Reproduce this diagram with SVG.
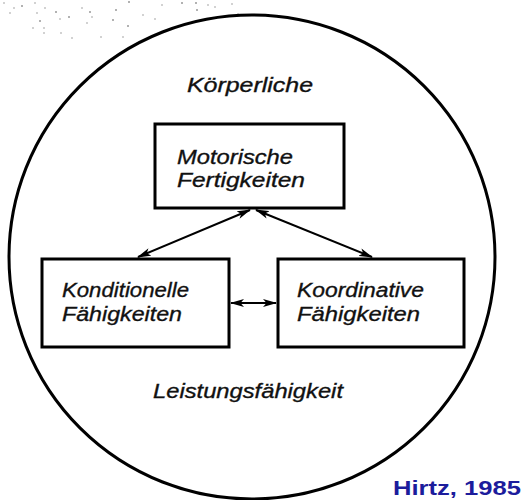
<svg xmlns="http://www.w3.org/2000/svg" width="524" height="500" viewBox="0 0 524 500">
  <style>
    .frame { fill: none; stroke: #000; stroke-width: 3; }
    .box { fill: #fff; stroke: #000; stroke-width: 3; }
    .lbl { font-family: "Liberation Sans", Arial, sans-serif; font-style: italic; font-size: 21px; fill: #111; stroke: #111; stroke-width: 0.35; }
    .link { stroke: #000; stroke-width: 2; fill: none; marker-start: url(#head); marker-end: url(#head); }
    .src { font-family: "Liberation Sans", Arial, sans-serif; font-weight: bold; font-size: 21px; fill: #1c1c9c; }
    .grain { fill: #999; }
  </style>
  <defs>
    <marker id="head" viewBox="0 0 14 9" refX="13" refY="4.5" markerWidth="14" markerHeight="9" markerUnits="userSpaceOnUse" orient="auto-start-reverse">
      <path d="M0,0.5 L14,4.5 L0,8.5 L3.5,4.5 Z" fill="#000"/>
    </marker>
  </defs>

  <!-- print grain in the upper-left corner -->
  <g id="grain" class="grain">
    <circle cx="4" cy="3" r="0.8"/><circle cx="14" cy="8" r="0.8"/><circle cx="22" cy="6" r="1"/>
    <circle cx="35" cy="3" r="0.8"/><circle cx="45" cy="8" r="0.8"/><circle cx="56" cy="12" r="1"/>
    <circle cx="37" cy="13" r="0.8"/><circle cx="40" cy="21" r="1"/><circle cx="60" cy="19" r="0.8"/>
    <circle cx="69" cy="17" r="1"/><circle cx="82" cy="8" r="0.8"/><circle cx="90" cy="12" r="1"/>
    <circle cx="92" cy="17" r="0.8"/><circle cx="87" cy="23" r="0.8"/><circle cx="116" cy="10" r="1"/>
    <circle cx="113" cy="20" r="1"/><circle cx="129" cy="2" r="1"/><circle cx="128" cy="26" r="1"/>
    <circle cx="143" cy="15" r="0.8"/><circle cx="155" cy="19" r="0.8"/><circle cx="162" cy="5" r="0.8"/>
    <circle cx="182" cy="3" r="1"/><circle cx="196" cy="3" r="1"/><circle cx="197" cy="10" r="1"/>
    <circle cx="208" cy="5" r="0.8"/><circle cx="215" cy="7" r="0.8"/><circle cx="232" cy="4" r="0.8"/>
    <circle cx="238" cy="14" r="0.8"/><circle cx="33" cy="28" r="0.8"/><circle cx="44" cy="28" r="0.8"/>
    <circle cx="61" cy="33" r="0.8"/><circle cx="72" cy="38" r="0.8"/><circle cx="101" cy="37" r="0.8"/>
    <circle cx="123" cy="37" r="0.8"/><circle cx="44" cy="33" r="0.8"/><circle cx="10" cy="13" r="0.8"/>
  </g>

  <!-- outer boundary -->
  <g id="outline">
    <ellipse class="frame" cx="252" cy="257" rx="243" ry="242"/>
  </g>

  <!-- connectors -->
  <g id="connectors">
    <line class="link" x1="250" y1="210" x2="138" y2="257"/>
    <line class="link" x1="256" y1="210" x2="372" y2="257"/>
    <line class="link" x1="231" y1="303" x2="276" y2="303"/>
  </g>

  <g id="label-top">
    <text class="lbl" x="187" y="92" textLength="126" lengthAdjust="spacingAndGlyphs">Körperliche</text>
  </g>

  <g id="node-motorisch">
    <rect class="box" x="155" y="124" width="189" height="84"/>
    <text class="lbl" x="177" y="164" textLength="116" lengthAdjust="spacingAndGlyphs">Motorische</text>
    <text class="lbl" x="177" y="187" textLength="128" lengthAdjust="spacingAndGlyphs">Fertigkeiten</text>
  </g>

  <g id="node-konditionell">
    <rect class="box" x="42" y="259" width="187" height="88"/>
    <text class="lbl" x="62" y="297" textLength="127" lengthAdjust="spacingAndGlyphs">Konditionelle</text>
    <text class="lbl" x="62" y="321" textLength="120" lengthAdjust="spacingAndGlyphs">Fähigkeiten</text>
  </g>

  <g id="node-koordinativ">
    <rect class="box" x="278" y="259" width="186" height="88"/>
    <text class="lbl" x="297" y="297" textLength="127" lengthAdjust="spacingAndGlyphs">Koordinative</text>
    <text class="lbl" x="297" y="321" textLength="123" lengthAdjust="spacingAndGlyphs">Fähigkeiten</text>
  </g>

  <g id="label-bottom">
    <text class="lbl" x="153" y="398" textLength="190" lengthAdjust="spacingAndGlyphs">Leistungsfähigkeit</text>
  </g>

  <g id="source">
    <text class="src" x="393" y="495" textLength="128" lengthAdjust="spacingAndGlyphs">Hirtz, 1985</text>
  </g>
</svg>
